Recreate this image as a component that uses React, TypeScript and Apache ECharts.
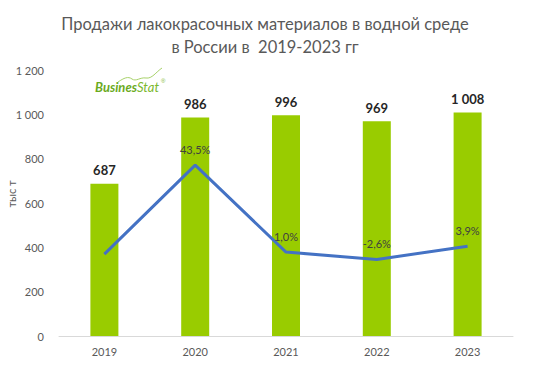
import React, { useEffect, useRef } from "react";
import * as echarts from "echarts";

const categories = ["2019", "2020", "2021", "2022", "2023"];
const salesValues = [687, 986, 996, 969, 1008];
const growthValues = [0, 43.5, 1.0, -2.6, 3.9];
const growthLabelShown = [false, true, true, true, true];
const titleLines = ["Продажи лакокрасочных материалов в водной среде", "в России в  2019-2023 гг"];
const yAxisName = "тыс т";

const FONT = "Lato, 'Open Sans', sans-serif";

function fmtThousands(v: number): string {
  return String(v).replace(/\B(?=(\d{3})+(?!\d))/g, " ");
}

echarts.graphic.registerShape(
  "bsSwoosh",
  echarts.graphic.extendPath("M0 14 C6 10 10 8 14 11 C18 14 22 9 28 10 C34 11 38 4 44 0", {})
);

export default function App() {
  const ref = useRef<HTMLDivElement>(null);
  useEffect(() => {
    if (!ref.current) return;
    const chart = echarts.init(ref.current, null, { renderer: "svg" });
    chart.setOption({
      animation: false,
      backgroundColor: "#ffffff",
      textStyle: { fontFamily: FONT },
      title: {
        text: titleLines.join("\n"),
        left: 265,
        textAlign: "center",
        top: 12,
        padding: 0,
        textStyle: {
          fontFamily: FONT,
          fontSize: 16.5,
          fontWeight: "normal",
          color: "#595959",
          lineHeight: 23,
        },
      },
      grid: {
        left: 59,
        right: 34,
        top: 70,
        bottom: 37,
        containLabel: false,
        outerBoundsMode: "none",
      },
      xAxis: {
        type: "category",
        data: categories,
        axisLine: { lineStyle: { color: "#d9d9d9", width: 1 } },
        axisTick: { show: false },
        axisLabel: { color: "#595959", fontSize: 11, margin: 10, fontFamily: FONT },
      },
      yAxis: [
        {
          type: "value",
          min: 0,
          max: 1200,
          interval: 200,
          axisLine: { show: false },
          axisTick: { show: false },
          splitLine: { show: false },
          axisLabel: {
            color: "#595959",
            fontSize: 11,
            margin: 15,
            fontFamily: FONT,
            formatter: (v: number) => fmtThousands(v),
          },
        },
        {
          type: "value",
          min: -40,
          max: 90,
          show: false,
          splitLine: { show: false },
        },
      ],
      series: [
        {
          type: "bar",
          data: salesValues,
          barWidth: 28,
          itemStyle: { color: "#99cc00" },
          label: {
            show: true,
            position: "top",
            distance: 7,
            fontSize: 13,
            fontWeight: "bold",
            color: "#262626",
            fontFamily: FONT,
            formatter: (p: any) => fmtThousands(p.value),
          },
        },
        {
          type: "line",
          yAxisIndex: 1,
          data: growthValues.map((v, i) => ({
            value: v,
            label: { show: growthLabelShown[i] },
          })),
          symbol: "circle",
          symbolSize: 1,
          showSymbol: true,
          itemStyle: { color: "rgba(0,0,0,0)" },
          lineStyle: { color: "#4472c4", width: 3 },
          label: {
            show: true,
            position: "top",
            distance: 10,
            fontSize: 11,
            color: "#404040",
            fontFamily: FONT,
            formatter: (p: any) => p.value.toFixed(1).replace(".", ",") + "%",
          },
        },
      ],
      graphic: [
        {
          type: "text",
          x: 11,
          y: 194,
          rotation: Math.PI / 2,
          style: {
            text: yAxisName,
            fontFamily: FONT,
            fontSize: 11,
            fill: "#595959",
            align: "center",
            verticalAlign: "middle",
          },
        },
        {
          type: "bsSwoosh",
          x: 118,
          y: 68,
          scaleX: 1,
          scaleY: 1,
          style: { fill: "none", stroke: "#a8d26a", lineWidth: 1 },
        },
        {
          type: "text",
          x: 95,
          y: 80,
          style: {
            text: "{a|Busines}{b|Stat}",
            rich: {
              a: {
                fontFamily: FONT,
                fontSize: 13,
                fontStyle: "italic",
                fontWeight: "bold",
                fill: "#6aaa1e",
                color: "#6aaa1e",
              },
              b: {
                fontFamily: FONT,
                fontSize: 13,
                fontStyle: "italic",
                fill: "#7cb82f",
                color: "#7cb82f",
              },
            },
          },
        },
        {
          type: "text",
          x: 161,
          y: 78,
          style: { text: "®", fontSize: 6, fill: "#7cb82f" },
        },
      ],
    });
    return () => chart.dispose();
  }, []);
  return (
    <div
      ref={ref}
      style={{ width: 547, height: 373, marginLeft: -8, marginTop: -8 }}
    />
  );
}
